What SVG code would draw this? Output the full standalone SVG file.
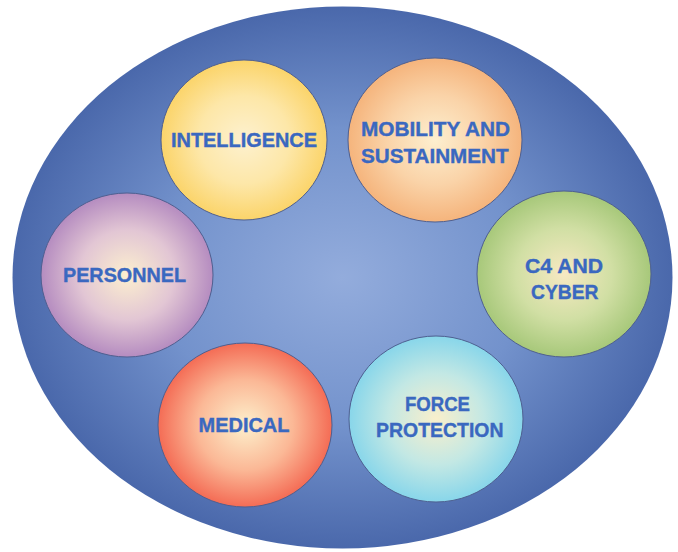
<svg xmlns="http://www.w3.org/2000/svg" width="678" height="552" viewBox="0 0 678 552">
<defs>
<radialGradient id="bg" cx="0.5" cy="0.5" r="0.5">
<stop offset="0" stop-color="#93acdc"/>
<stop offset="0.55" stop-color="#7392cc"/>
<stop offset="1" stop-color="#4a68ab"/>
</radialGradient>
<radialGradient id="gY" cx="0.5" cy="0.5" r="0.5"><stop offset="0" stop-color="#fdf1cf"/><stop offset="0.55" stop-color="#fde7a8"/><stop offset="1" stop-color="#fbd46a"/></radialGradient>
<radialGradient id="gO" cx="0.5" cy="0.5" r="0.5"><stop offset="0" stop-color="#fdefcf"/><stop offset="0.55" stop-color="#fad3a8"/><stop offset="1" stop-color="#f5b47c"/></radialGradient>
<radialGradient id="gG" cx="0.5" cy="0.5" r="0.5"><stop offset="0" stop-color="#f7e9c2"/><stop offset="0.55" stop-color="#d1dfa4"/><stop offset="1" stop-color="#a7c87a"/></radialGradient>
<radialGradient id="gP" cx="0.5" cy="0.5" r="0.5"><stop offset="0" stop-color="#fcefcf"/><stop offset="0.55" stop-color="#e2c6d4"/><stop offset="1" stop-color="#b58cc0"/></radialGradient>
<radialGradient id="gR" cx="0.5" cy="0.5" r="0.5"><stop offset="0" stop-color="#fdf0cc"/><stop offset="0.55" stop-color="#fbb896"/><stop offset="1" stop-color="#f46c55"/></radialGradient>
<radialGradient id="gC" cx="0.5" cy="0.5" r="0.5"><stop offset="0" stop-color="#f9efcc"/><stop offset="0.55" stop-color="#c3e8e4"/><stop offset="1" stop-color="#88d6ea"/></radialGradient>
</defs>
<style>
.c{stroke:#4e5f90;stroke-width:1}
.t{font-family:"Liberation Sans",Arial,sans-serif;font-weight:bold;font-size:20.5px;fill:#3a68c0;stroke:#3a68c0;stroke-width:0.4}
</style>
<rect width="678" height="552" fill="#ffffff"/>
<ellipse id="outer" cx="342.5" cy="277.5" rx="330" ry="271" fill="url(#bg)"/>
<g id="connectors"></g>
<g id="intelligence">
<ellipse class="c" cx="244" cy="140" rx="83" ry="80" fill="url(#gY)"/>
<text class="t" x="171" y="147" textLength="146" lengthAdjust="spacingAndGlyphs">INTELLIGENCE</text>
</g>
<g id="mobility">
<ellipse class="c" cx="435" cy="140" rx="87" ry="82" fill="url(#gO)"/>
<text class="t" x="361" y="136" textLength="149" lengthAdjust="spacingAndGlyphs">MOBILITY AND</text>
<text class="t" x="361" y="163" textLength="147.5" lengthAdjust="spacingAndGlyphs">SUSTAINMENT</text>
</g>
<g id="c4cyber">
<ellipse class="c" cx="564" cy="274" rx="87" ry="83" fill="url(#gG)"/>
<text class="t" x="525" y="272.5" textLength="78" lengthAdjust="spacingAndGlyphs">C4 AND</text>
<text class="t" x="531" y="299" textLength="67.5" lengthAdjust="spacingAndGlyphs">CYBER</text>
</g>
<g id="personnel">
<ellipse class="c" cx="127" cy="275" rx="86" ry="82" fill="url(#gP)"/>
<text class="t" x="63" y="281.5" textLength="123" lengthAdjust="spacingAndGlyphs">PERSONNEL</text>
</g>
<g id="medical">
<ellipse class="c" cx="245" cy="425" rx="87" ry="82" fill="url(#gR)"/>
<text class="t" x="198.5" y="431.5" textLength="91" lengthAdjust="spacingAndGlyphs">MEDICAL</text>
</g>
<g id="forceprotection">
<ellipse class="c" cx="436" cy="419" rx="87" ry="83" fill="url(#gC)"/>
<text class="t" x="405" y="410.5" textLength="65" lengthAdjust="spacingAndGlyphs">FORCE</text>
<text class="t" x="376" y="437" textLength="127.5" lengthAdjust="spacingAndGlyphs">PROTECTION</text>
</g>
</svg>
